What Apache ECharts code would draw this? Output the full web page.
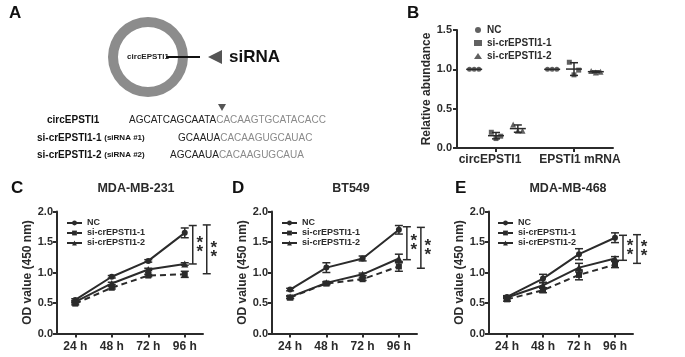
<!DOCTYPE html>
<html><head><meta charset="utf-8">
<script src="https://cdn.jsdelivr.net/npm/echarts@6/dist/echarts.min.js"></script>
<style>html,body{margin:0;padding:0;background:#fff}#c{width:685px;height:357px}</style>
</head><body><div id="c"></div>
<script>
// ---------------- data ----------------
const groups = ['NC', 'si-crEPSTI1-1', 'si-crEPSTI1-2'];
// Panel B
const bCategories = ['circEPSTI1', 'EPSTI1 mRNA'];
const bYTicks = [0, 0.5, 1.0, 1.5];
const bNC  = [[1.0, 1.0, 1.0], [1.0, 1.0, 1.0]];
const bSi1 = [[0.20, 0.12, 0.15], [1.09, 0.93, 0.99]];
const bSi2 = [[0.30, 0.22, 0.22], [0.98, 0.96, 0.97]];
// Panels C-E
const timeLabels = ['24 h', '48 h', '72 h', '96 h'];
const odTicks = [0, 0.5, 1.0, 1.5, 2.0];
const cTitle = 'MDA-MB-231';
const cNC  = [0.55, 0.93, 1.19, 1.65], cNCsd  = [0.02, 0.02, 0.02, 0.08];
const cSi1 = [0.49, 0.75, 0.95, 0.97], cSi1sd = [0.02, 0.02, 0.02, 0.05];
const cSi2 = [0.52, 0.82, 1.05, 1.14], cSi2sd = [0.02, 0.02, 0.02, 0.02];
const cBrackets = [[1.14, 1.77], [0.98, 1.78]];
const dTitle = 'BT549';
const dNC  = [0.72, 1.08, 1.23, 1.70], dNCsd  = [0.02, 0.08, 0.04, 0.07];
const dSi1 = [0.59, 0.82, 0.89, 1.10], dSi1sd = [0.02, 0.02, 0.02, 0.08];
const dSi2 = [0.60, 0.83, 0.97, 1.23], dSi2sd = [0.02, 0.02, 0.02, 0.07];
const dBrackets = [[1.21, 1.75], [1.07, 1.74]];
const eTitle = 'MDA-MB-468';
const eNC  = [0.60, 0.90, 1.30, 1.57], eNCsd  = [0.02, 0.07, 0.09, 0.08];
const eSi1 = [0.56, 0.71, 0.96, 1.13], eSi1sd = [0.03, 0.04, 0.08, 0.05];
const eSi2 = [0.59, 0.79, 1.08, 1.23], eSi2sd = [0.02, 0.05, 0.07, 0.03];
const eBrackets = [[1.20, 1.61], [1.15, 1.62]];
const stars = '*';

// ---------------- style ----------------
const INK = '#2b2b2b';
const FONT = 'Liberation Sans, Arial, sans-serif';
const symbols = ['circle', 'rect', 'triangle'];
const symSizes = [6, 6, 7];

function fmt1(v) { return v.toFixed(1); }

function axisCommon() {
  return {
    axisLine: {show: true, lineStyle: {color: INK, width: 2}},
    axisTick: {show: true, length: 4, lineStyle: {color: INK, width: 2}},
    axisLabel: {color: INK, fontFamily: FONT, fontWeight: 'bold', fontSize: 11},
    splitLine: {show: false}
  };
}

// ---------------- grids ----------------
const grids = [
  {left: 457, top: 30, width: 156, height: 118},
  {left: 57, top: 211.5, width: 146, height: 122},
  {left: 272, top: 211.5, width: 145, height: 122},
  {left: 489, top: 211.5, width: 144, height: 122}
];

const xAxes = [], yAxes = [], series = [];

// Panel B axes
const bLabelRich = {
  l: {fontFamily: FONT, fontWeight: 'bold', fontSize: 12, color: INK, padding: [0, 12, 0, 0]},
  r: {fontFamily: FONT, fontWeight: 'bold', fontSize: 12, color: INK, padding: [0, 0, 0, 12]}
};
xAxes.push(Object.assign(axisCommon(), {
  type: 'category', gridIndex: 0, data: bCategories,
  axisTick: {show: true, alignWithLabel: true, length: 4, lineStyle: {color: INK, width: 2}},
  axisLabel: {color: INK, fontFamily: FONT, fontWeight: 'bold', fontSize: 12, margin: 6, interval: 0, hideOverlap: false,
    formatter: (v, idx) => (idx === 0 ? '{l|' : '{r|') + v + '}', rich: bLabelRich}
}));
xAxes.push({type: 'value', gridIndex: 0, min: 0, max: 2, show: false});
yAxes.push(Object.assign(axisCommon(), {
  type: 'value', gridIndex: 0, min: 0, max: 1.5, interval: 0.5,
  axisLabel: {color: INK, fontFamily: FONT, fontWeight: 'bold', fontSize: 11, formatter: fmt1, margin: 5},
  name: 'Relative abundance', nameLocation: 'middle', nameGap: 22,
  nameTextStyle: {color: INK, fontFamily: FONT, fontWeight: 'bold', fontSize: 12}
}));

// Panel B scatter + mean/sd
const bSets = [bNC, bSi1, bSi2];
const summary = [];
bSets.forEach((set, g) => {
  const pts = [];
  set.forEach((reps, c) => {
    reps.forEach((v, r) => {
      pts.push([c + 0.5 + (g - 1) * 0.28 + (r - 1) * 0.06, v]);
    });
    const m = reps.reduce((a, b) => a + b, 0) / reps.length;
    const sd = Math.sqrt(reps.reduce((a, b) => a + (b - m) * (b - m), 0) / (reps.length - 1));
    summary.push([c + 0.5 + (g - 1) * 0.28, m, sd]);
  });
  series.push({
    type: 'scatter', name: groups[g] + ' ', xAxisIndex: 1, yAxisIndex: 0,
    symbol: symbols[g], symbolSize: g === 2 ? 6 : 5,
    itemStyle: {color: '#3a3a3a'}, data: pts, z: 3
  });
});
series.push({
  type: 'custom', name: 'meansd', xAxisIndex: 1, yAxisIndex: 0, data: summary, z: 4,
  renderItem(params, api) {
    const x = api.value(0), m = api.value(1), sd = api.value(2);
    const pm = api.coord([x, m]);
    const ch = [{type: 'line', shape: {x1: pm[0] - 8, y1: pm[1], x2: pm[0] + 8, y2: pm[1]}, style: {stroke: INK, lineWidth: 1.5}}];
    if (sd > 0.005) {
      const lo = api.coord([x, m - sd]), hi = api.coord([x, m + sd]);
      ch.push({type: 'line', shape: {x1: lo[0], y1: lo[1], x2: hi[0], y2: hi[1]}, style: {stroke: INK, lineWidth: 1.5}});
      ch.push({type: 'line', shape: {x1: lo[0] - 4, y1: lo[1], x2: lo[0] + 4, y2: lo[1]}, style: {stroke: INK, lineWidth: 1.5}});
      ch.push({type: 'line', shape: {x1: hi[0] - 4, y1: hi[1], x2: hi[0] + 4, y2: hi[1]}, style: {stroke: INK, lineWidth: 1.5}});
    }
    return {type: 'group', children: ch};
  }
});

// Panels C-E
const panels = [
  {title: cTitle, vals: [cNC, cSi1, cSi2], sds: [cNCsd, cSi1sd, cSi2sd], br: cBrackets},
  {title: dTitle, vals: [dNC, dSi1, dSi2], sds: [dNCsd, dSi1sd, dSi2sd], br: dBrackets},
  {title: eTitle, vals: [eNC, eSi1, eSi2], sds: [eNCsd, eSi1sd, eSi2sd], br: eBrackets}
];
const bracketOffsets = [8, 22];

panels.forEach((p, i) => {
  const gi = i + 1;
  xAxes.push(Object.assign(axisCommon(), {
    type: 'category', gridIndex: gi, data: timeLabels,
    axisTick: {show: true, alignWithLabel: true, length: 4, lineStyle: {color: INK, width: 2}},
    axisLabel: {color: INK, fontFamily: FONT, fontWeight: 'bold', fontSize: 12, margin: 7, interval: 0}
  }));
  yAxes.push(Object.assign(axisCommon(), {
    type: 'value', gridIndex: gi, min: 0, max: 2, interval: 0.5,
    axisLabel: {color: INK, fontFamily: FONT, fontWeight: 'bold', fontSize: 11, formatter: fmt1, margin: 4},
    name: 'OD value (450 nm)', nameLocation: 'middle', nameGap: 21,
    nameTextStyle: {color: INK, fontFamily: FONT, fontWeight: 'bold', fontSize: 12}
  }));
  const xi = gi + 1, yi = gi;
  p.vals.forEach((vals, g) => {
    series.push({
      type: 'line', name: groups[g], xAxisIndex: xi, yAxisIndex: yi,
      data: vals, symbol: symbols[g], symbolSize: symSizes[g], showSymbol: true,
      lineStyle: {color: INK, width: 2, type: g === 1 ? [6, 4] : 'solid'},
      itemStyle: {color: INK}, z: 3
    });
    series.push({
      type: 'custom', name: 'err', xAxisIndex: xi, yAxisIndex: yi, z: 4,
      data: vals.map((v, k) => [k, v - p.sds[g][k], v + p.sds[g][k]]),
      renderItem(params, api) {
        const lo = api.coord([api.value(0), api.value(1)]);
        const hi = api.coord([api.value(0), api.value(2)]);
        const s = {stroke: INK, lineWidth: 1.5};
        return {type: 'group', children: [
          {type: 'line', shape: {x1: lo[0], y1: lo[1], x2: hi[0], y2: hi[1]}, style: s},
          {type: 'line', shape: {x1: lo[0] - 4, y1: lo[1], x2: lo[0] + 4, y2: lo[1]}, style: s},
          {type: 'line', shape: {x1: hi[0] - 4, y1: hi[1], x2: hi[0] + 4, y2: hi[1]}, style: s}
        ]};
      }
    });
  });
  series.push({
    type: 'custom', name: 'sig', xAxisIndex: xi, yAxisIndex: yi, z: 5,
    data: p.br.map((b, k) => [timeLabels.length - 1, b[0], b[1], k]),
    renderItem(params, api) {
      const lo = api.coord([api.value(0), api.value(1)]);
      const hi = api.coord([api.value(0), api.value(2)]);
      const x = lo[0] + bracketOffsets[api.value(3)];
      const s = {stroke: INK, lineWidth: 1.5};
      const mid = (lo[1] + hi[1]) / 2;
      const st = (yy) => ({type: 'text', style: {text: stars, x: x + 7, y: yy, align: 'center', verticalAlign: 'top',
        font: 'bold 17px ' + FONT, fill: INK}});
      return {type: 'group', children: [
        {type: 'line', shape: {x1: x, y1: lo[1], x2: x, y2: hi[1]}, style: s},
        {type: 'line', shape: {x1: x - 4, y1: lo[1], x2: x + 4, y2: lo[1]}, style: s},
        {type: 'line', shape: {x1: x - 4, y1: hi[1], x2: x + 4, y2: hi[1]}, style: s},
        st(mid - 10), st(mid - 1)
      ]};
    }
  });
});

// ---------------- legends & titles ----------------
const legendText = {color: INK, fontFamily: FONT, fontWeight: 'bold', fontSize: 9, lineHeight: 10};
const legends = [
  {data: groups.map(g => g + ' '), left: 474, top: 24, padding: 0, orient: 'vertical', itemGap: 1, itemWidth: 8, itemHeight: 6,
   formatter: n => n.trim(), textStyle: Object.assign({}, legendText, {fontSize: 10, lineHeight: 12}), selectedMode: false}
];
[66, 281, 497].forEach(l => legends.push({
  data: groups, left: l, top: 218, padding: 0, orient: 'vertical', itemGap: 0, itemWidth: 15, itemHeight: 6,
  textStyle: legendText, selectedMode: false
}));

const titles = [
  {text: cTitle, left: 131, top: 177},
  {text: dTitle, left: 346, top: 177},
  {text: eTitle, left: 563, top: 177}
].map(t => Object.assign(t, {textAlign: 'center', textStyle: {color: INK, fontFamily: FONT, fontWeight: 'bold', fontSize: 12.5}}));

// ---------------- panel A (diagram) + panel letters ----------------
const letter = (t, x, y) => ({type: 'text', left: x, top: y, style: {text: t, font: 'bold 17px ' + FONT, fill: '#111'}});
const graphic = [
  letter('A', 9, 5), letter('B', 407, 5), letter('C', 11, 180), letter('D', 232, 180), letter('E', 455, 180),
  {type: 'ring', shape: {cx: 148, cy: 57, r: 40, r0: 30}, style: {fill: '#8c8c8c'}},
  {type: 'line', shape: {x1: 166, y1: 57, x2: 200, y2: 57}, style: {stroke: '#111', lineWidth: 2}},
  {type: 'text', x: 148, y: 57, style: {text: 'circEPSTI1', align: 'center', verticalAlign: 'middle', font: 'bold 8px ' + FONT, fill: '#222'}},
  {type: 'polygon', shape: {points: [[208, 57], [222, 50], [222, 64]]}, style: {fill: '#555'}},
  {type: 'text', x: 229, y: 57, style: {text: 'siRNA', verticalAlign: 'middle', font: 'bold 17px ' + FONT, fill: '#111'}},
  {type: 'polygon', shape: {points: [[218, 104], [226, 104], [222, 111]]}, style: {fill: '#555'}},
  {type: 'text', x: 47, y: 120, style: {text: 'circEPSTI1', verticalAlign: 'middle', font: 'bold 10px ' + FONT, fill: '#111'}},
  {type: 'text', x: 129, y: 120, style: {text: '{k|AGCATCAGCAATA}{g|CACAAGTGCATACACC}', verticalAlign: 'middle',
    rich: {k: {fontFamily: FONT, fontSize: 10, fill: '#222'}, g: {fontFamily: FONT, fontSize: 10, fill: '#8a8a8a'}}}},
  {type: 'text', x: 37, y: 138, style: {text: '{a|si-crEPSTI1-1 }{b|(siRNA #1)}', verticalAlign: 'middle',
    rich: {a: {fontFamily: FONT, fontWeight: 'bold', fontSize: 10, fill: '#111'}, b: {fontFamily: FONT, fontWeight: 'bold', fontSize: 8, fill: '#111'}}}},
  {type: 'text', x: 178, y: 138, style: {text: '{k|GCAAUA}{g|CACAAGUGCAUAC}', verticalAlign: 'middle',
    rich: {k: {fontFamily: FONT, fontSize: 10, fill: '#222'}, g: {fontFamily: FONT, fontSize: 10, fill: '#8a8a8a'}}}},
  {type: 'text', x: 37, y: 155, style: {text: '{a|si-crEPSTI1-2 }{b|(siRNA #2)}', verticalAlign: 'middle',
    rich: {a: {fontFamily: FONT, fontWeight: 'bold', fontSize: 10, fill: '#111'}, b: {fontFamily: FONT, fontWeight: 'bold', fontSize: 8, fill: '#111'}}}},
  {type: 'text', x: 170, y: 155, style: {text: '{k|AGCAAUA}{g|CACAAGUGCAUA}', verticalAlign: 'middle',
    rich: {k: {fontFamily: FONT, fontSize: 10, fill: '#222'}, g: {fontFamily: FONT, fontSize: 10, fill: '#8a8a8a'}}}}
];

const chart = echarts.init(document.getElementById('c'), null, {renderer: 'canvas'});
chart.setOption({
  backgroundColor: '#fff',
  animation: false,
  title: titles,
  legend: legends,
  grid: grids,
  xAxis: xAxes,
  yAxis: yAxes,
  series: series,
  graphic: graphic
});
</script></body></html>
